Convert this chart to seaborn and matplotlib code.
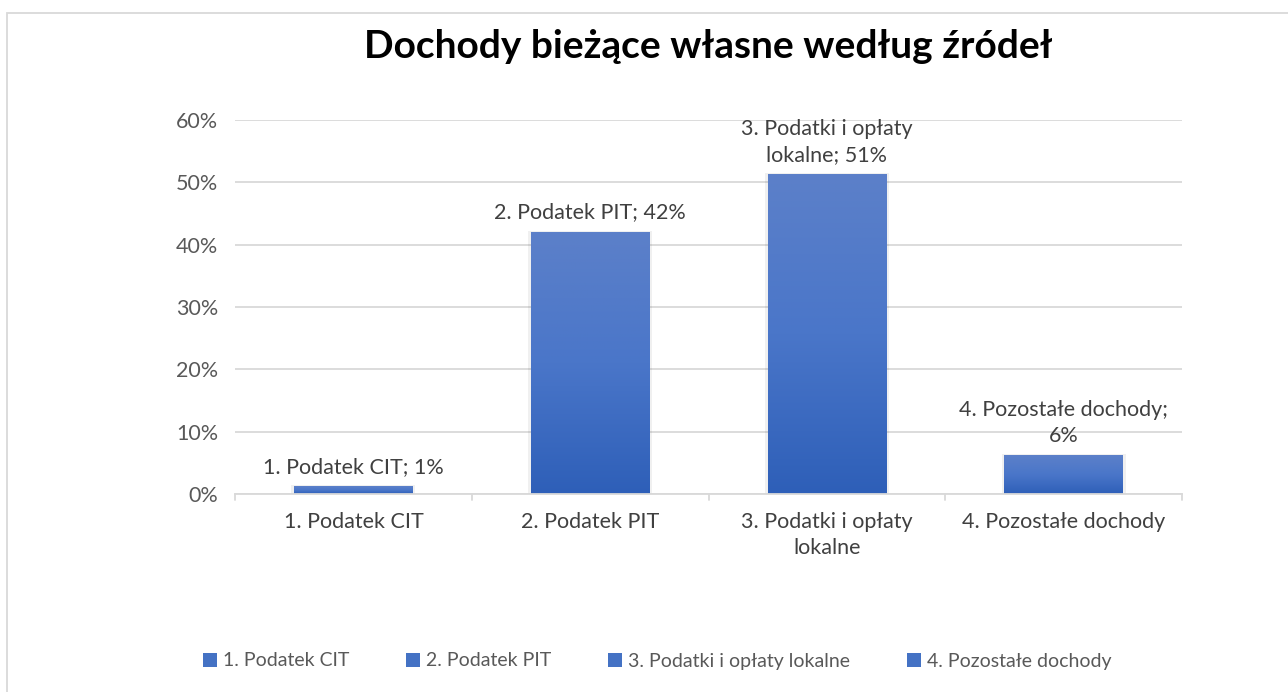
import numpy as np
import pandas as pd
import matplotlib
matplotlib.use("Agg")
import matplotlib.pyplot as plt
import seaborn as sns
from matplotlib.colors import LinearSegmentedColormap
from matplotlib.patches import Patch, Rectangle

# data
categories = ["1. Podatek CIT", "2. Podatek PIT", "3. Podatki i opłaty lokalne", "4. Pozostałe dochody"]
tick_labels = ["1. Podatek CIT", "2. Podatek PIT", "3. Podatki i opłaty\nlokalne", "4. Pozostałe dochody"]
bar_labels = ["1. Podatek CIT; 1%", "2. Podatek PIT; 42%", "3. Podatki i opłaty\nlokalne; 51%",
              "4. Pozostałe dochody;\n6%"]
values = [1.2, 42.0, 51.2, 6.1]

sns.set_theme(style="white")
plt.rcParams["font.family"] = ["Lato", "DejaVu Sans"]

df = pd.DataFrame({"source": categories, "share": values})

fig = plt.figure(figsize=(12.88, 6.92), dpi=100)
ax = fig.add_axes([0.1825, 0.2861, 0.7352, 0.5405])

sns.barplot(data=df, x="source", y="share", color="#4472c4", width=0.5, ax=ax, zorder=3)

# gradient fill for each bar
grad = LinearSegmentedColormap.from_list("g", ["#2e5fb8", "#4a76c9", "#5c80c9"])
gimg = np.linspace(0, 1, 256).reshape(-1, 1)
for p in ax.patches:
    x0, w, h = p.get_x(), p.get_width(), p.get_height()
    p.set_alpha(0)
    ax.imshow(gimg, cmap=grad, extent=[x0, x0 + w, 0, h], origin="lower",
              aspect="auto", zorder=3)
    # faint shadow
    ax.add_patch(Rectangle((x0 - 0.012, 0), w + 0.024, h + 0.25, color="#000000",
                           alpha=0.06, zorder=2, lw=0))

for p, lab in zip(ax.patches, bar_labels):
    ax.annotate(lab, (p.get_x() + p.get_width() / 2, p.get_height()),
                xytext=(0, 7), textcoords="offset points", ha="center", va="bottom",
                fontsize=15.5, color="#404040", linespacing=1.4, zorder=5)

ax.set_xlim(-0.5, len(categories) - 0.5)
ax.set_ylim(0, 60)
ax.set_yticks(np.arange(0, 61, 10))
ax.set_yticklabels([f"{v}%" for v in range(0, 61, 10)])
ax.set_xticks(range(len(categories)))
ax.set_xticklabels(tick_labels, linespacing=1.35)
ax.set_xlabel("")
ax.set_ylabel("")
ax.grid(axis="y", color="#d9d9d9", lw=1.3, zorder=0)
for s in ["top", "right", "left"]:
    ax.spines[s].set_visible(False)
ax.spines["bottom"].set_color("#d9d9d9")
ax.spines["bottom"].set_linewidth(1.3)
ax.spines["bottom"].set_zorder(4)
ax.tick_params(axis="y", length=0, pad=12, labelsize=15.5, labelcolor="#595959")
ax.tick_params(axis="x", length=0, pad=13, labelsize=15.5, labelcolor="#404040")
for xb in np.arange(-0.5, len(categories), 1):
    ax.plot([xb, xb], [0, -1.0], color="#d9d9d9", lw=1.3, clip_on=False)

fig.text(0.5497, 1 - 46 / 692, "Dochody bieżące własne według źródeł", ha="center", va="center",
         fontsize=28, fontweight="bold", color="#000000")

handles = [Patch(facecolor="#4472c4", edgecolor="none") for _ in categories]
fig.legend(handles, categories, loc="center", bbox_to_anchor=(657 / 1288, 1 - 661 / 692),
           ncol=4, frameon=False, fontsize=14, labelcolor="#595959",
           handlelength=0.75, handleheight=0.75, handletextpad=0.3, columnspacing=2.9)

# outer chart border
fig.patches.append(Rectangle((7 / 1288, -0.1), 1.2, 1 - 13 / 692 + 0.1, transform=fig.transFigure,
                             fill=False, edgecolor="#d9d9d9", lw=1.3, figure=fig))

fig.savefig("out.png", dpi=100, facecolor="white")
